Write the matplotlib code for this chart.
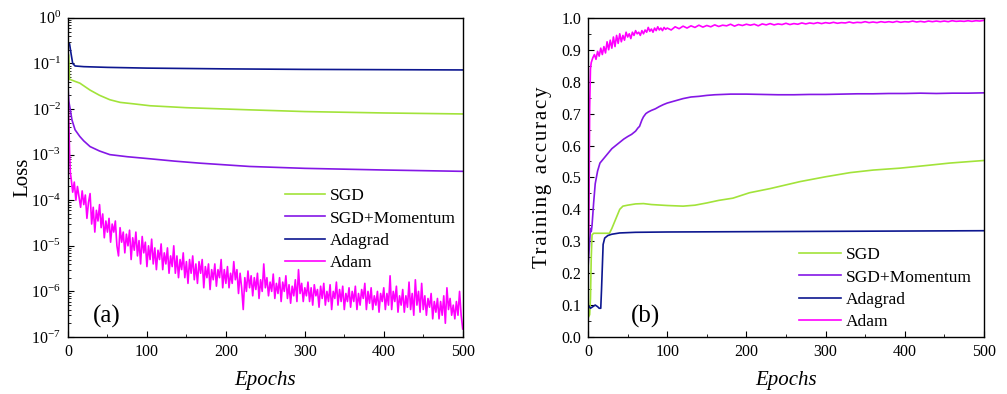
"""Loss and training accuracy of four optimizers over 500 epochs."""

import matplotlib
matplotlib.use("Agg")
import matplotlib.pyplot as plt
import numpy as np
from matplotlib.ticker import LogLocator, MultipleLocator, NullFormatter

plt.rcParams["font.family"] = ["Liberation Serif", "DejaVu Serif"]
plt.rcParams["mathtext.fontset"] = "custom"
plt.rcParams["mathtext.rm"] = "Liberation Serif"
plt.rcParams["mathtext.it"] = "Liberation Serif:italic"
plt.rcParams["axes.unicode_minus"] = False

labels = ["SGD", "SGD+Momentum", "Adagrad", "Adam"]
colors = ["#a2e33a", "#8417e6", "#0d1790", "#ff00ff"]

# ---- (a) loss ----
sgd_loss_ep = [0, 1, 2, 8, 15, 28, 40, 53, 66, 83, 104, 150, 230, 300, 400, 500]
sgd_loss = [0.17, 0.15, 0.045, 0.041, 0.037, 0.026, 0.02, 0.016, 0.014, 0.013,
            0.0118, 0.0107, 0.0096, 0.0088, 0.0082, 0.0078]

mom_loss_ep = [0, 1, 3, 5, 9, 15, 20, 28, 40, 53, 75, 104, 135, 167, 230, 300, 400, 500]
mom_loss = [0.03, 0.015, 0.0095, 0.0058, 0.0035, 0.0025, 0.002, 0.0015, 0.0012,
            0.001, 0.0009, 0.00081, 0.00072, 0.00065, 0.00055, 0.0005, 0.00046, 0.00043]

ada_loss_ep = [0, 2, 4, 6, 9, 20, 50, 100, 200, 300, 400, 500]
ada_loss = [0.28, 0.27, 0.16, 0.1, 0.088, 0.085, 0.082, 0.079, 0.076, 0.074, 0.073, 0.072]

adam_loss_ep = [0, 1, 2, 3] + list(range(4, 501, 2))
adam_loss = [
    3e-2, 6e-3, 1.2e-3, 4e-4,
    3e-4, 1.5e-4, 2.5e-4, 1e-4, 2e-4, 1.2e-4, 7e-5, 1.6e-4, 8e-5, 1.3e-4,            # 4-22
    4e-5, 9e-5, 1.4e-4, 3e-5, 7e-5, 2e-5, 6e-5, 3.5e-5, 8e-5, 2.5e-5,              # 24-42
    5e-5, 1.5e-5, 3.5e-5, 2e-5, 4e-5, 1.2e-5, 3e-5, 2e-5, 3.5e-5, 1e-5,            # 44-62
    6e-6, 2.5e-5, 1.2e-5, 2e-5, 7e-6, 1.8e-5, 1e-5, 2.2e-5, 5e-6, 1.5e-5,          # 64-82
    8e-6, 2e-5, 6e-6, 1.3e-5, 4e-6, 1.6e-5, 7e-6, 1.2e-5, 3.5e-6, 1e-5,            # 84-102
    5e-6, 1.4e-5, 4e-6, 9e-6, 3e-6, 8e-6, 5e-6, 1.1e-5, 3e-6, 7e-6,                # 104-122
    4e-6, 9e-6, 2.5e-6, 6e-6, 3.5e-6, 1e-5, 2.5e-6, 6e-6, 2e-6, 5e-6,              # 124-142
    3e-6, 7e-6, 2e-6, 4.5e-6, 1.5e-6, 5e-6, 2.5e-6, 6e-6, 1.8e-6, 4e-6,            # 144-162
    1.5e-6, 4.5e-6, 2.5e-6, 5e-6, 1.2e-6, 3.5e-6, 2e-6, 4e-6, 1.1e-6, 3e-6,        # 164-182
    1.8e-6, 4e-6, 1.3e-6, 3e-6, 2e-6, 5e-6, 1.2e-6, 3e-6, 1.5e-6, 3.5e-6,          # 184-202
    1.2e-6, 2.5e-6, 1.5e-6, 4.5e-6, 1.8e-6, 3e-6, 9e-7, 2.5e-6, 1.2e-6, 4e-7,      # 204-222
    2e-6, 1e-6, 2.8e-6, 1.2e-6, 2.2e-6, 8e-7, 2e-6, 1.1e-6, 2.5e-6, 7e-7,          # 224-242
    1.8e-6, 1e-6, 4e-6, 1.2e-6, 2e-6, 8e-7, 1.6e-6, 1e-6, 2.4e-6, 7e-7,            # 244-262
    1.5e-6, 9e-7, 2e-6, 6e-7, 1.6e-6, 1e-6, 2.2e-6, 7e-7, 1.4e-6, 5.5e-7,          # 264-282
    1.3e-6, 8e-7, 1.8e-6, 6e-7, 3e-6, 9e-7, 1.5e-6, 6e-7, 1.2e-6, 8e-7,            # 284-302
    1.6e-6, 6e-7, 1.2e-6, 5e-7, 1.4e-6, 8e-7, 1.1e-6, 4.5e-7, 1.3e-6, 7e-7,        # 304-322
    1.5e-6, 5e-7, 1e-6, 6e-7, 1.4e-6, 4e-7, 1e-6, 7e-7, 1.6e-6, 5e-7,              # 324-342
    1.1e-6, 6e-7, 1.3e-6, 4e-7, 9e-7, 6e-7, 1.2e-6, 4.5e-7, 1e-6, 6e-7,            # 344-362
    1.3e-6, 4e-7, 9e-7, 5e-7, 1.1e-6, 7e-7, 1.5e-6, 4e-7, 1e-6, 5.5e-7,            # 364-382
    1.2e-6, 4e-7, 8e-7, 5e-7, 1e-6, 3.5e-7, 9e-7, 6e-7, 1.2e-6, 4e-7,              # 384-402
    9e-7, 5e-7, 2.2e-6, 4e-7, 1e-6, 6e-7, 1.3e-6, 3.5e-7, 8e-7, 5e-7,              # 404-422
    1.1e-6, 3.5e-7, 8e-7, 4.5e-7, 1.6e-6, 4e-7, 9e-7, 3e-7, 1.8e-6, 5e-7,          # 424-442
    1e-6, 3.5e-7, 1.5e-6, 4e-7, 8e-7, 3e-7, 7e-7, 4.5e-7, 9e-7, 2.5e-7,            # 444-462
    6e-7, 3.5e-7, 7e-7, 2.5e-7, 6e-7, 3e-7, 8e-7, 2e-7, 1.2e-6, 4e-7,              # 464-482
    7e-7, 3e-7, 5e-7, 2.5e-7, 6e-7, 3e-7, 1e-6, 3e-7, 1.5e-7,                      # 484-500
]

# ---- (b) training accuracy ----
sgd_acc_ep = [0, 2, 3, 4, 5, 7, 27, 30, 35, 40, 44, 50, 60, 70, 80, 100, 120, 135,
              150, 165, 183, 204, 230, 268, 300, 331, 360, 394, 430, 457, 500]
sgd_acc = [0.06, 0.07, 0.12, 0.25, 0.32, 0.325, 0.325, 0.34, 0.37, 0.40, 0.41, 0.413,
           0.417, 0.418, 0.415, 0.412, 0.41, 0.413, 0.42, 0.428, 0.435, 0.452, 0.465,
           0.487, 0.502, 0.515, 0.523, 0.529, 0.538, 0.545, 0.553]

mom_acc_ep = [0, 2, 3, 4, 5, 7, 9, 12, 15, 20, 25, 30, 35, 40, 45, 50, 55, 60, 63, 65,
              68, 70, 73, 76, 80, 85, 90, 95, 100, 110, 120, 130, 140, 150, 160, 170,
              180, 200, 220, 240, 260, 280, 300, 320, 340, 360, 380, 400, 420, 440,
              460, 480, 500]
mom_acc = [0.22, 0.30, 0.34, 0.33, 0.35, 0.42, 0.48, 0.52, 0.545, 0.56, 0.575, 0.59,
           0.60, 0.61, 0.62, 0.628, 0.635, 0.645, 0.655, 0.66, 0.68, 0.69, 0.70, 0.705,
           0.71, 0.715, 0.722, 0.728, 0.733, 0.74, 0.747, 0.752, 0.754, 0.757, 0.759,
           0.76, 0.761, 0.761, 0.76, 0.759, 0.759, 0.76, 0.76, 0.761, 0.762, 0.762,
           0.763, 0.763, 0.764, 0.763, 0.764, 0.764, 0.765]

ada_acc_ep = [0, 3, 6, 9, 12, 14, 16, 17, 19, 21, 25, 30, 40, 60, 100, 200, 300, 400, 500]
ada_acc = [0.10, 0.09, 0.095, 0.10, 0.095, 0.09, 0.09, 0.15, 0.29, 0.31, 0.318, 0.322,
           0.326, 0.328, 0.329, 0.33, 0.331, 0.332, 0.333]

adam_acc_ep = [0, 1, 2, 3, 4] + list(range(6, 100, 2)) + list(range(100, 501, 5))
adam_acc = [
    0.30, 0.34, 0.72, 0.84, 0.86,
    0.875, 0.885, 0.87, 0.895, 0.88, 0.905, 0.885, 0.91, 0.89, 0.925,      # 6-24
    0.90, 0.93, 0.905, 0.94, 0.91, 0.945, 0.92, 0.95, 0.925, 0.945,        # 26-44
    0.93, 0.955, 0.94, 0.95, 0.935, 0.955, 0.945, 0.96, 0.95, 0.955,       # 46-64
    0.945, 0.96, 0.95, 0.962, 0.955, 0.97, 0.958, 0.965, 0.955, 0.968,     # 66-84
    0.96, 0.972, 0.962, 0.968, 0.96, 0.97, 0.964,                          # 86-98
    0.968, 0.962, 0.972, 0.966, 0.974, 0.968, 0.975, 0.97, 0.977, 0.971,   # 100-145
    0.976, 0.972, 0.978, 0.973, 0.977, 0.975, 0.98, 0.974, 0.979, 0.976,   # 150-195
    0.98, 0.977, 0.98, 0.975, 0.981, 0.978, 0.982, 0.978, 0.981, 0.979,    # 200-245
    0.983, 0.979, 0.982, 0.98, 0.984, 0.981, 0.984, 0.982, 0.985, 0.982,   # 250-295
    0.985, 0.983, 0.986, 0.983, 0.985, 0.984, 0.987, 0.984, 0.986, 0.985,  # 300-345
    0.988, 0.985, 0.987, 0.985, 0.988, 0.986, 0.988, 0.986, 0.989, 0.986,  # 350-395
    0.988, 0.987, 0.99, 0.987, 0.989, 0.987, 0.99, 0.988, 0.99, 0.988,     # 400-445
    0.99, 0.988, 0.991, 0.989, 0.99, 0.989, 0.991, 0.989, 0.991, 0.99,     # 450-495
    0.992,                                                                 # 500
]

fig = plt.figure(figsize=(10.07, 3.94), dpi=100)
ax1 = fig.add_axes([0.0675, 0.1447, 0.392, 0.81])
ax2 = fig.add_axes([0.584, 0.1447, 0.393, 0.81])

loss_series = [(sgd_loss_ep, sgd_loss), (mom_loss_ep, mom_loss),
               (ada_loss_ep, ada_loss), (adam_loss_ep, adam_loss)]
acc_series = [(sgd_acc_ep, sgd_acc), (mom_acc_ep, mom_acc),
              (ada_acc_ep, ada_acc), (adam_acc_ep, adam_acc)]

for (x, y), lab, c in zip(loss_series, labels, colors):
    ax1.plot(x, y, color=c, lw=1.2, label=lab)
for (x, y), lab, c in zip(acc_series, labels, colors):
    ax2.plot(x, y, color=c, lw=1.2, label=lab)

ax1.set_yscale("log")
ax1.set_ylim(1e-7, 1)
ax1.yaxis.set_major_locator(LogLocator(base=10, numticks=10))
ax1.yaxis.set_minor_locator(LogLocator(base=10, subs=np.arange(2, 10), numticks=20))
ax1.yaxis.set_minor_formatter(NullFormatter())
ax1.set_ylabel("Loss", fontsize=15)

ax2.set_ylim(0, 1)
ax2.yaxis.set_major_locator(MultipleLocator(0.1))
ax2.yaxis.set_minor_locator(MultipleLocator(0.05))
ax2.yaxis.set_major_formatter(plt.FormatStrFormatter("%.1f"))
# the original label is letter-spaced
ax2.set_ylabel("\u200a".join("Training") + "  " + "\u200a".join("accuracy"), fontsize=15)

for ax, tag, tx in [(ax1, "(a)", 0.099), (ax2, "(b)", 0.146)]:
    ax.set_xlim(0, 500)
    ax.xaxis.set_major_locator(MultipleLocator(100))
    ax.xaxis.set_minor_locator(MultipleLocator(50))
    ax.tick_params(which="both", direction="in", top=False, right=False,
                   labelsize=11.5, pad=5)
    ax.tick_params(which="major", length=4)
    ax.tick_params(which="minor", length=2.5)
    ax.set_xlabel("Epochs", fontsize=15, style="italic", labelpad=8)
    ax.yaxis.set_label_coords(-0.091, 0.5)
    ax.text(tx, 0.063, tag, transform=ax.transAxes, fontsize=18,
            ha="center", va="center")
    for s in ax.spines.values():
        s.set_linewidth(1.0)

ax1.legend(loc="upper left", bbox_to_anchor=(0.549, 0.467), frameon=False,
           fontsize=12.5, handlelength=2.3, handletextpad=0.3, labelspacing=0.36,
           borderpad=0, borderaxespad=0)
ax2.legend(loc="upper left", bbox_to_anchor=(0.533, 0.282), frameon=False,
           fontsize=12.5, handlelength=2.4, handletextpad=0.3, labelspacing=0.36,
           borderpad=0, borderaxespad=0)

fig.savefig("out.png", dpi=100)
